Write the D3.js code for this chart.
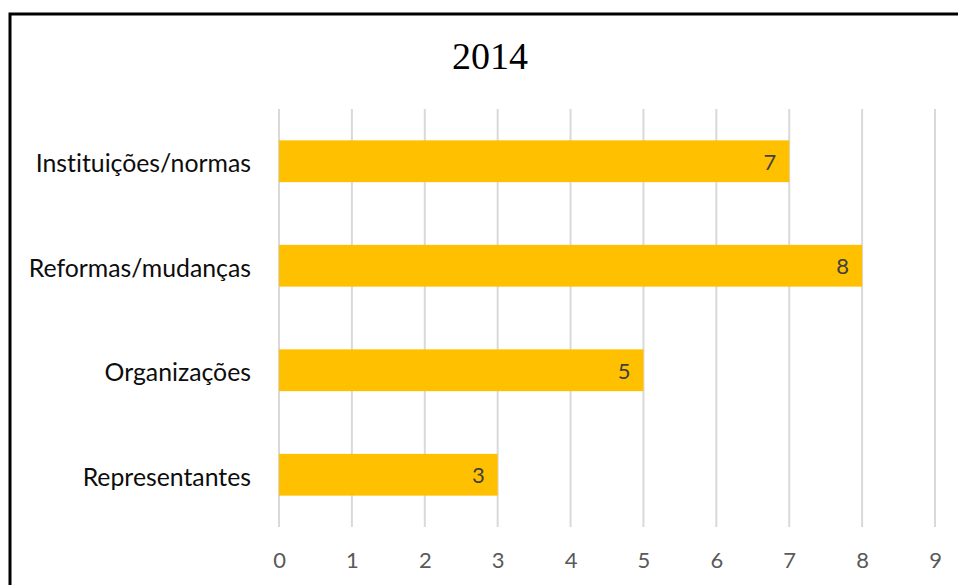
<!DOCTYPE html>
<html>
<head>
<meta charset="utf-8">
<script src="https://cdn.jsdelivr.net/npm/d3@7"></script>
<style>
  html, body { margin: 0; padding: 0; background: #fff; }
  svg { display: block; }
  text { font-variant-ligatures: none; font-feature-settings: "liga" 0; }
</style>
</head>
<body>
<svg id="chart" width="958" height="585"></svg>
<script>
// Chart data
const title = "2014";
const categories = ["Instituições/normas", "Reformas/mudanças", "Organizações", "Representantes"];
const values = [7, 8, 5, 3];
const tickValues = [0, 1, 2, 3, 4, 5, 6, 7, 8, 9];

const svg = d3.select("#chart");
const W = 958, H = 585;

// Plot area
const plot = { left: 279, right: 935, top: 109, bottom: 527 };

const x = d3.scaleLinear().domain([0, 9]).range([plot.left, plot.right]);
const y = d3.scaleBand().domain(categories).range([plot.top, plot.bottom]).paddingInner(0.6).paddingOuter(0.3);

// White background and chart-area frame
svg.append("rect").attr("width", W).attr("height", H).attr("fill", "#fff");
svg.append("rect")
  .attr("x", 10).attr("y", 14)
  .attr("width", 1000).attr("height", 1000)
  .attr("fill", "none").attr("stroke", "#000").attr("stroke-width", 3);

// Title
svg.append("text")
  .attr("x", 490).attr("y", 69)
  .attr("text-anchor", "middle")
  .attr("font-family", "'Liberation Serif', 'Times New Roman', serif")
  .attr("font-size", 38)
  .attr("fill", "#000")
  .text(title);

// Vertical gridlines
svg.append("g")
  .selectAll("line")
  .data(tickValues)
  .join("line")
  .attr("x1", d => x(d)).attr("x2", d => x(d))
  .attr("y1", plot.top).attr("y2", plot.bottom)
  .attr("stroke", "#d9d9d9").attr("stroke-width", 2);

// Bars
svg.append("g")
  .selectAll("rect")
  .data(categories)
  .join("rect")
  .attr("x", x(0))
  .attr("y", d => y(d))
  .attr("width", (d, i) => x(values[i]) - x(0))
  .attr("height", y.bandwidth())
  .attr("fill", "#ffc000");

// Value labels inside bar ends
svg.append("g")
  .selectAll("text")
  .data(categories)
  .join("text")
  .attr("x", (d, i) => x(values[i]) - 13)
  .attr("y", d => y(d) + y.bandwidth() / 2 + 8.5)
  .attr("text-anchor", "end")
  .attr("font-family", "Lato, 'Open Sans', sans-serif")
  .attr("font-size", 22)
  .attr("fill", "#404040")
  .text((d, i) => values[i]);

// Category axis
const yAxis = d3.axisLeft(y).tickSize(0).tickPadding(28);
const gy = svg.append("g")
  .attr("transform", `translate(${plot.left},0)`)
  .call(yAxis);
gy.select(".domain").remove();
gy.selectAll("text")
  .attr("font-family", "Lato, 'Open Sans', sans-serif")
  .attr("font-size", 24.8)
  .attr("fill", "#0d0d0d")
  .attr("dy", null)
  .attr("y", 11);

// Value axis
const xAxis = d3.axisBottom(x).tickValues(tickValues).tickSize(0).tickPadding(0).tickFormat(d3.format("d"));
const gx = svg.append("g")
  .attr("transform", `translate(0,${plot.bottom})`)
  .call(xAxis);
gx.select(".domain").remove();
gx.selectAll("text")
  .attr("font-family", "Lato, 'Open Sans', sans-serif")
  .attr("font-size", 22)
  .attr("fill", "#595959")
  .attr("dy", null)
  .attr("y", 41);
</script>
</body>
</html>
